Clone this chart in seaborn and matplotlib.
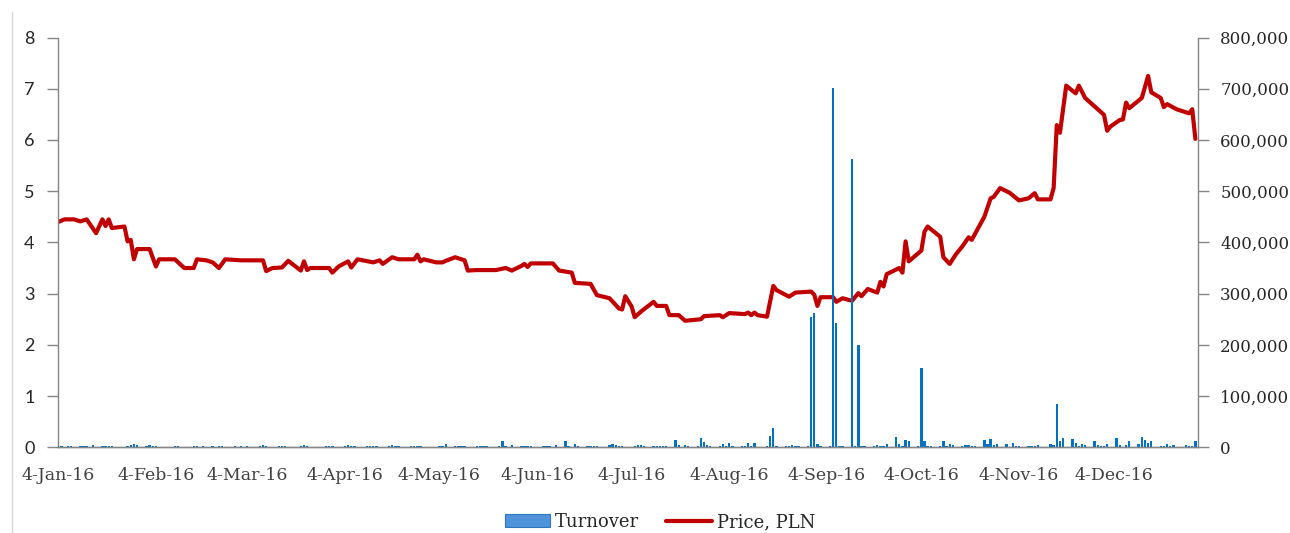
import matplotlib
matplotlib.use("Agg")
import matplotlib.pyplot as plt
import matplotlib.dates as mdates
from matplotlib.lines import Line2D
from matplotlib.patches import Patch
from matplotlib.ticker import FuncFormatter
import pandas as pd
import seaborn as sns

# Closing price, PLN
price_dates = [
    "2016-01-04", "2016-01-06", "2016-01-09", "2016-01-11", "2016-01-13", "2016-01-16",
    "2016-01-18", "2016-01-19", "2016-01-20", "2016-01-21", "2016-01-25", "2016-01-26",
    "2016-01-27", "2016-01-28", "2016-01-29", "2016-02-02", "2016-02-04", "2016-02-05",
    "2016-02-10", "2016-02-13", "2016-02-16", "2016-02-17", "2016-02-20", "2016-02-22",
    "2016-02-24", "2016-02-26", "2016-03-02", "2016-03-09", "2016-03-10", "2016-03-12",
    "2016-03-15", "2016-03-17", "2016-03-21", "2016-03-22", "2016-03-23", "2016-03-24",
    "2016-03-30", "2016-03-31", "2016-04-02", "2016-04-05", "2016-04-06", "2016-04-08",
    "2016-04-13", "2016-04-15", "2016-04-16", "2016-04-19", "2016-04-21", "2016-04-26",
    "2016-04-27", "2016-04-28", "2016-04-29", "2016-05-03", "2016-05-05", "2016-05-06",
    "2016-05-09", "2016-05-12", "2016-05-13", "2016-05-16", "2016-05-22", "2016-05-25",
    "2016-05-27", "2016-05-30", "2016-05-31", "2016-06-01", "2016-06-02", "2016-06-09",
    "2016-06-11", "2016-06-15", "2016-06-16", "2016-06-21", "2016-06-23", "2016-06-27",
    "2016-06-30", "2016-07-01", "2016-07-02", "2016-07-04", "2016-07-05", "2016-07-07",
    "2016-07-11", "2016-07-12", "2016-07-15", "2016-07-16", "2016-07-19", "2016-07-21",
    "2016-07-26", "2016-07-27", "2016-08-01", "2016-08-02", "2016-08-04", "2016-08-09",
    "2016-08-10", "2016-08-11", "2016-08-12", "2016-08-13", "2016-08-16", "2016-08-18",
    "2016-08-19", "2016-08-23", "2016-08-25", "2016-08-30", "2016-08-31", "2016-09-01",
    "2016-09-02", "2016-09-06", "2016-09-07", "2016-09-09", "2016-09-12", "2016-09-14",
    "2016-09-15", "2016-09-17", "2016-09-20", "2016-09-21", "2016-09-22", "2016-09-23",
    "2016-09-27", "2016-09-28", "2016-09-29", "2016-09-30", "2016-10-04", "2016-10-05",
    "2016-10-06", "2016-10-10", "2016-10-11", "2016-10-13", "2016-10-15", "2016-10-17",
    "2016-10-19", "2016-10-20", "2016-10-24", "2016-10-26", "2016-10-27", "2016-10-29",
    "2016-11-01", "2016-11-04", "2016-11-07", "2016-11-09", "2016-11-10", "2016-11-14",
    "2016-11-15", "2016-11-16", "2016-11-17", "2016-11-19", "2016-11-22", "2016-11-23",
    "2016-11-25", "2016-11-29", "2016-12-01", "2016-12-02", "2016-12-03", "2016-12-06",
    "2016-12-07", "2016-12-08", "2016-12-09", "2016-12-13", "2016-12-15", "2016-12-16",
    "2016-12-19", "2016-12-20", "2016-12-21", "2016-12-24", "2016-12-28", "2016-12-29",
    "2016-12-30",
]
price_values = [
    4.40, 4.45, 4.45, 4.41, 4.45, 4.18,
    4.45, 4.32, 4.45, 4.28, 4.31, 4.02,
    4.05, 3.67, 3.87, 3.87, 3.53, 3.67,
    3.67, 3.50, 3.50, 3.67, 3.65, 3.61,
    3.50, 3.67, 3.65, 3.65, 3.44, 3.50,
    3.51, 3.64, 3.45, 3.63, 3.46, 3.50,
    3.50, 3.41, 3.53, 3.63, 3.51, 3.67,
    3.61, 3.65, 3.58, 3.71, 3.67, 3.67,
    3.76, 3.63, 3.67, 3.61, 3.61, 3.64,
    3.71, 3.65, 3.45, 3.46, 3.46, 3.50,
    3.45, 3.54, 3.58, 3.52, 3.59, 3.59,
    3.45, 3.41, 3.21, 3.19, 2.97, 2.91,
    2.71, 2.69, 2.95, 2.75, 2.54, 2.65,
    2.84, 2.76, 2.76, 2.58, 2.58, 2.47,
    2.50, 2.56, 2.58, 2.54, 2.62, 2.60,
    2.63, 2.58, 2.63, 2.58, 2.55, 3.15,
    3.07, 2.94, 3.02, 3.04, 2.98, 2.76,
    2.93, 2.93, 2.84, 2.91, 2.86, 3.01,
    2.95, 3.09, 3.02, 3.23, 3.14, 3.38,
    3.50, 3.41, 4.02, 3.63, 3.84, 4.21,
    4.31, 4.11, 3.71, 3.58, 3.77, 3.92,
    4.10, 4.05, 4.50, 4.86, 4.89, 5.06,
    4.97, 4.82, 4.86, 4.96, 4.84, 4.84,
    5.06, 6.29, 6.14, 7.06, 6.91, 7.06,
    6.82, 6.60, 6.49, 6.18, 6.26, 6.39,
    6.40, 6.73, 6.62, 6.82, 7.25, 6.93,
    6.82, 6.64, 6.70, 6.60, 6.52, 6.60,
    6.02,
]

# Daily turnover
turnover_dates = [
    "2016-01-04", "2016-01-05", "2016-01-07", "2016-01-08", "2016-01-11", "2016-01-12",
    "2016-01-13", "2016-01-15", "2016-01-18", "2016-01-19", "2016-01-20", "2016-01-21",
    "2016-01-26", "2016-01-27", "2016-01-28", "2016-01-29",
    "2016-02-01", "2016-02-02", "2016-02-03", "2016-02-04", "2016-02-10", "2016-02-11",
    "2016-02-16", "2016-02-17", "2016-02-19", "2016-02-22", "2016-02-24", "2016-02-25",
    "2016-02-29", "2016-03-02", "2016-03-04", "2016-03-08", "2016-03-09", "2016-03-10",
    "2016-03-14", "2016-03-15", "2016-03-16", "2016-03-21", "2016-03-22", "2016-03-23",
    "2016-03-29", "2016-03-30", "2016-03-31",
    "2016-04-04", "2016-04-05", "2016-04-06", "2016-04-07", "2016-04-11", "2016-04-12",
    "2016-04-13", "2016-04-14", "2016-04-18", "2016-04-19", "2016-04-20", "2016-04-21",
    "2016-04-25", "2016-04-26", "2016-04-27", "2016-04-28",
    "2016-05-04", "2016-05-05", "2016-05-06", "2016-05-09", "2016-05-10", "2016-05-11",
    "2016-05-12", "2016-05-16", "2016-05-17", "2016-05-18", "2016-05-19", "2016-05-23",
    "2016-05-24", "2016-05-25", "2016-05-27", "2016-05-30", "2016-05-31",
    "2016-06-01", "2016-06-02", "2016-06-06", "2016-06-07", "2016-06-08", "2016-06-10",
    "2016-06-13", "2016-06-14", "2016-06-16", "2016-06-17", "2016-06-20", "2016-06-21",
    "2016-06-22", "2016-06-23", "2016-06-27", "2016-06-28", "2016-06-29", "2016-06-30",
    "2016-07-01", "2016-07-05", "2016-07-06", "2016-07-07", "2016-07-08", "2016-07-11",
    "2016-07-12", "2016-07-13", "2016-07-14", "2016-07-15", "2016-07-18", "2016-07-19",
    "2016-07-21", "2016-07-22", "2016-07-25", "2016-07-26", "2016-07-27", "2016-07-28",
    "2016-07-29",
    "2016-08-01", "2016-08-02", "2016-08-03", "2016-08-04", "2016-08-05", "2016-08-08",
    "2016-08-09", "2016-08-10", "2016-08-11", "2016-08-12", "2016-08-16", "2016-08-17",
    "2016-08-18", "2016-08-19", "2016-08-22", "2016-08-23", "2016-08-24", "2016-08-25",
    "2016-08-26", "2016-08-29", "2016-08-30", "2016-08-31",
    "2016-09-01", "2016-09-02", "2016-09-05", "2016-09-06", "2016-09-07", "2016-09-08",
    "2016-09-09", "2016-09-12", "2016-09-13", "2016-09-14", "2016-09-15", "2016-09-16",
    "2016-09-19", "2016-09-20", "2016-09-21", "2016-09-22", "2016-09-23", "2016-09-26",
    "2016-09-27", "2016-09-28", "2016-09-29", "2016-09-30",
    "2016-10-03", "2016-10-04", "2016-10-05", "2016-10-06", "2016-10-07", "2016-10-10",
    "2016-10-11", "2016-10-12", "2016-10-13", "2016-10-14", "2016-10-17", "2016-10-18",
    "2016-10-19", "2016-10-20", "2016-10-21", "2016-10-24", "2016-10-25", "2016-10-26",
    "2016-10-27", "2016-10-28", "2016-10-31",
    "2016-11-02", "2016-11-03", "2016-11-04", "2016-11-07", "2016-11-08", "2016-11-09",
    "2016-11-10", "2016-11-14", "2016-11-15", "2016-11-16", "2016-11-17", "2016-11-18",
    "2016-11-21", "2016-11-22", "2016-11-23", "2016-11-24", "2016-11-25", "2016-11-28",
    "2016-11-29", "2016-11-30",
    "2016-12-01", "2016-12-02", "2016-12-05", "2016-12-06", "2016-12-08", "2016-12-09",
    "2016-12-12", "2016-12-13", "2016-12-14", "2016-12-15", "2016-12-16", "2016-12-19",
    "2016-12-20", "2016-12-21", "2016-12-22", "2016-12-23", "2016-12-27", "2016-12-28",
    "2016-12-29", "2016-12-30",
]
turnover_values = [
    2500, 2000, 3000, 2500, 2000, 2500,
    2500, 5000, 3000, 2500, 3000, 2000,
    3000, 4000, 7000, 4000,
    3000, 4000, 3000, 2500, 2500, 2500,
    3000, 2500, 2500, 2500, 3000, 2500,
    2500, 2500, 2500, 2500, 4000, 3000,
    3000, 2500, 3000, 2500, 4000, 3000,
    2500, 2500, 3000,
    3000, 4500, 3000, 2500, 2500, 3000,
    2500, 3000, 3000, 4000, 2500, 3000,
    2500, 2500, 3000, 2500,
    2500, 3000, 6000, 2500, 3000, 2500,
    2500, 2500, 3000, 2500, 2500, 3000,
    13000, 3000, 4000, 2500, 3000,
    2500, 3000, 2500, 3000, 3000, 5000,
    13000, 3000, 6000, 3000, 2500, 3000,
    2500, 2500, 5000, 6000, 4000, 2500,
    3000, 3000, 4000, 4000, 2500, 2500,
    2500, 3000, 2500, 3000, 14000, 4000,
    4000, 3000, 2500, 18000, 11000, 4000,
    2500,
    3000, 7000, 2500, 8500, 2500, 2500,
    3000, 8500, 3000, 8500, 2500, 23000,
    37000, 3000, 2500, 3000, 4000, 3000,
    2500, 2500, 255000, 263000,
    6500, 3000, 2500, 702000, 243000, 3000,
    2500, 562000, 2500, 200000, 3000, 2500,
    2500, 4000, 3000, 2500, 6500, 20000,
    7000, 3000, 14000, 13000,
    3000, 155000, 11500, 3000, 2500, 3000,
    11500, 2500, 6500, 4000, 3000, 4000,
    4000, 3000, 2500, 13500, 6500, 16000,
    4000, 6500, 6500,
    8500, 2500, 2500, 2500, 3000, 3000,
    4000, 6500, 4000, 85000, 11500, 18000,
    16000, 8500, 3000, 6500, 4000, 11500,
    4000, 2500,
    2500, 6500, 18000, 4000, 4000, 11500,
    6500, 20000, 13500, 8500, 11500, 3000,
    3000, 6500, 3000, 4000, 4000, 3000,
    3000, 11500,
]

tick_dates = ["2016-%02d-04" % m for m in range(1, 13)]

price = pd.DataFrame({"date": pd.to_datetime(price_dates), "price": price_values})
turnover = pd.DataFrame({"date": pd.to_datetime(turnover_dates), "turnover": turnover_values})

sns.set_style("white")
plt.rcParams["font.family"] = ["DejaVu Serif"]

RED = "#C00000"
BLUE = "#0070C0"
AXIS = "#868686"

fig = plt.figure(figsize=(12.9, 5.33), dpi=100)
ax = fig.add_axes([58.3 / 1290, 1 - 447.3 / 533, (1198 - 58.3) / 1290, (447.3 - 37.5) / 533])

sns.lineplot(data=price, x="date", y="price", ax=ax, color=RED, linewidth=3.0,
             solid_joinstyle="round", solid_capstyle="round")

ax2 = ax.twinx()
ax2.bar(turnover["date"], turnover["turnover"], width=0.75, color=BLUE, linewidth=0)

ax.set_ylim(0, 8)
ax2.set_ylim(0, 800000)
ax.set_xlim(pd.Timestamp("2016-01-04"), pd.Timestamp("2016-12-30 20:00"))
ax.set_xlabel("")
ax.set_ylabel("")
ax2.set_ylabel("")

ax.set_xticks(pd.to_datetime(tick_dates))
ax.xaxis.set_major_formatter(FuncFormatter(
    lambda v, pos: "%d-%s" % (mdates.num2date(v).day, mdates.num2date(v).strftime("%b-%y"))))
ax.set_yticks(range(0, 9))
ax2.set_yticks(range(0, 800001, 100000))
ax2.yaxis.set_major_formatter(FuncFormatter(lambda v, pos: f"{int(v):,}"))

for a in (ax, ax2):
    a.spines["top"].set_visible(False)
    for s in ("left", "right", "bottom"):
        a.spines[s].set_color(AXIS)
        a.spines[s].set_linewidth(1.0)
ax.spines["right"].set_visible(False)
ax2.spines["left"].set_visible(False)

ax.tick_params(axis="x", direction="out", length=6, width=1, color=AXIS, pad=8,
               labelsize=12.5, labelcolor="#404040")
ax.tick_params(axis="y", direction="out", length=8, width=1, color=AXIS, pad=9,
               labelsize=13, labelcolor="#262626")
for lab in ax.get_yticklabels():
    lab.set_family(["Lato", "DejaVu Sans"])
ax2.tick_params(axis="y", direction="out", length=8, width=1, color=AXIS, pad=8,
                labelsize=12, labelcolor="#262626")

handles = [Patch(facecolor="#4F94DA", edgecolor="#2F75C0", linewidth=0.8),
           Line2D([0], [0], color=RED, linewidth=3)]
fig.legend(handles, ["Turnover", "Price, PLN"], loc="center",
           bbox_to_anchor=(660 / 1290, 1 - 522 / 533), ncol=2, frameon=False,
           prop={"family": "DejaVu Serif", "size": 13}, handlelength=2.5,
           handleheight=0.75, handletextpad=0.3, columnspacing=1.5)

# faint chart-area border on the left edge
fig.add_artist(Line2D([12 / 1290, 12 / 1290], [0, 1 - 12 / 533],
                      transform=fig.transFigure, color="#d9d9d9", linewidth=1))

fig.savefig("out.png", dpi=100)
